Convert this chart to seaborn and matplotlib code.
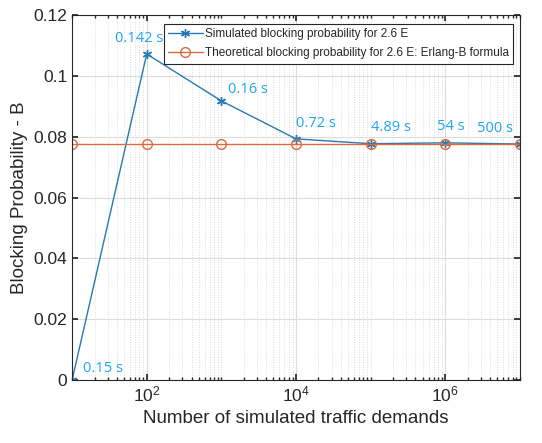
import numpy as np
import pandas as pd
import matplotlib
matplotlib.use("Agg")
import matplotlib.pyplot as plt
import matplotlib.ticker as mticker
import seaborn as sns

demands = [1e1, 1e2, 1e3, 1e4, 1e5, 1e6, 1e7]
simulated = [0.0, 0.1072, 0.0918, 0.0793, 0.0777, 0.0780, 0.0776]
theoretical = [0.0775] * 7
run_times = ["0.15 s", "0.142 s", "0.16 s", "0.72 s", "4.89 s", "54 s", "500 s"]

sim_label = "Simulated blocking probability for 2.6 E"
theo_label = "Theoretical blocking probability for 2.6 E: Erlang-B formula"

sns.set_theme(style="ticks")
plt.rcParams['font.family'] = ['Liberation Sans', 'DejaVu Sans']

fig = plt.figure(figsize=(5.42, 4.43), dpi=100)
ax = fig.add_axes([0.133, 0.142, 0.826, 0.824])

blue = "#2679B5"
orange = "#DB6A3E"

df = pd.DataFrame({"x": demands, "sim": simulated, "theo": theoretical})
sns.lineplot(data=df, x="x", y="sim", ax=ax, color=blue, marker=(6, 2, 0),
             markersize=6.5, markeredgewidth=1.0, markeredgecolor=blue,
             linewidth=1.0, label=sim_label)
sns.lineplot(data=df, x="x", y="theo", ax=ax, color=orange, marker="o",
             markersize=7, markerfacecolor="none", markeredgecolor=orange,
             markeredgewidth=1.0, linewidth=1.0, label=theo_label)

ax.set_xscale("log")
ax.set_xlim(10, 1e7)
ax.set_ylim(0, 0.12)
ax.xaxis.set_major_locator(mticker.FixedLocator([1e2, 1e4, 1e6]))
ax.xaxis.set_minor_locator(mticker.LogLocator(base=10, subs=np.arange(1, 10), numticks=20))
ax.xaxis.set_minor_formatter(mticker.NullFormatter())
ax.set_yticks([0, 0.02, 0.04, 0.06, 0.08, 0.1, 0.12])
ax.set_yticklabels(["0", "0.02", "0.04", "0.06", "0.08", "0.1", "0.12"])

ax.grid(True, which="major", color="#dcdcdc", linewidth=0.8, linestyle="-")
ax.grid(True, which="minor", axis="x", color="#d0d0d0", linewidth=0.6, linestyle=(0, (1, 2)))
ax.set_axisbelow(True)

for s in ax.spines.values():
    s.set_color("#262626")
    s.set_linewidth(0.8)
ax.tick_params(which="both", direction="in", top=True, right=True, colors="#262626",
               labelsize=12.5)
ax.tick_params(which="major", length=4)
ax.tick_params(which="minor", length=2)

ax.set_xlabel("Number of simulated traffic demands", fontsize=13.5, color="#262626")
ax.set_ylabel("Blocking Probability - B", fontsize=13.5, color="#262626")

offsets = [(8, 3), (-23, 6), (5, 3), (0, 6), (0, 6), (-6, 6), (-31, 6)]
for x, y, t, off in zip(demands, simulated, run_times, offsets):
    ax.annotate(t, (x, y), xytext=off, textcoords="offset points", color="#1FA5EC",
                fontsize=10.5, family=["Open Sans", "DejaVu Sans"], ha="left", va="bottom")

leg = ax.legend(loc="upper right", bbox_to_anchor=(0.985, 0.975), fontsize=8.5,
                frameon=True, fancybox=False, edgecolor="#262626", framealpha=1,
                borderaxespad=0.0, handlelength=2.9, handletextpad=0.2,
                borderpad=0.35, labelspacing=0.6)
leg.get_frame().set_linewidth(0.8)

fig.savefig("out.png", dpi=100)
